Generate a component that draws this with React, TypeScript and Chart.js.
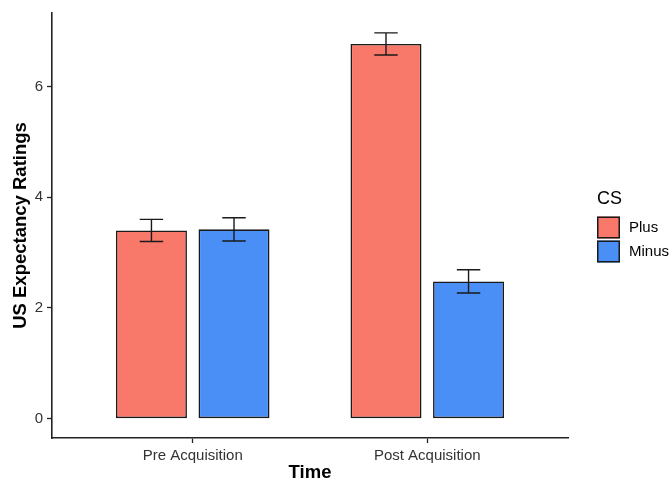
import React, { useEffect, useRef } from 'react';
import { Chart, registerables } from 'chart.js';

Chart.register(...registerables);

const categories = ['Pre Acquisition', 'Post Acquisition'];
const seriesNames = ['Plus', 'Minus'];
const plusValues = [3.4, 6.77];
const minusValues = [3.42, 2.48];
const plusErrors = [0.2, 0.2];
const minusErrors = [0.21, 0.21];
const yTicks = [0, 2, 4, 6];
const legendTitle = 'CS';
const xTitle = 'Time';
const yTitle = 'US Expectancy Ratings';
const seriesColors = ['#F8786A', '#4A8FF5'];

const FONT = '"Liberation Sans", Arial, Helvetica, sans-serif';
const seriesValues = [plusValues, minusValues];
const seriesErrors = [plusErrors, minusErrors];

const errorBarPlugin = {
  id: 'errorBars',
  afterDatasetsDraw(chart: any) {
    const { ctx } = chart;
    const yScale = chart.scales.y;
    ctx.save();
    ctx.strokeStyle = '#1a1a1a';
    ctx.lineWidth = 1.4;
    chart.data.datasets.forEach((_ds: any, di: number) => {
      const meta = chart.getDatasetMeta(di);
      meta.data.forEach((bar: any, i: number) => {
        const v = seriesValues[di][i];
        const e = seriesErrors[di][i];
        const yTop = yScale.getPixelForValue(v + e);
        const yBot = yScale.getPixelForValue(v - e);
        const hw = bar.width * 0.165;
        ctx.beginPath();
        ctx.moveTo(bar.x, yTop);
        ctx.lineTo(bar.x, yBot);
        ctx.moveTo(bar.x - hw, yTop);
        ctx.lineTo(bar.x + hw, yTop);
        ctx.moveTo(bar.x - hw, yBot);
        ctx.lineTo(bar.x + hw, yBot);
        ctx.stroke();
      });
    });
    ctx.restore();
  },
};

const legendPlugin = {
  id: 'ggLegend',
  afterDraw(chart: any) {
    const { ctx, chartArea } = chart;
    const x0 = chartArea.right + 29;
    const titleY = (chartArea.top + chartArea.bottom) / 2 - 26;
    ctx.save();
    ctx.fillStyle = '#000';
    ctx.textBaseline = 'middle';
    ctx.textAlign = 'left';
    ctx.font = `18px ${FONT}`;
    ctx.fillText(legendTitle, x0, titleY);
    const key = 22;
    const keyTop = titleY + 17;
    seriesNames.forEach((name, i) => {
      const ky = keyTop + i * (key + 2);
      ctx.fillStyle = seriesColors[i];
      ctx.fillRect(x0, ky, key + 1, key);
      ctx.strokeStyle = '#1a1a1a';
      ctx.lineWidth = 1.5;
      ctx.strokeRect(x0 + 0.75, ky + 0.75, key - 0.5, key - 1.5);
      ctx.fillStyle = '#000';
      ctx.font = `15px ${FONT}`;
      ctx.fillText(name, x0 + key + 10, ky + key / 2);
    });
    ctx.restore();
  },
};

export default function App() {
  const canvasRef = useRef<HTMLCanvasElement | null>(null);

  useEffect(() => {
    document.body.style.margin = '0';
    const canvas = canvasRef.current;
    if (!canvas) return;
    const tickFont = { family: FONT, size: 15 };
    const titleFont = { family: FONT, size: 18.5, weight: 'bold' as const };
    const chart = new Chart(canvas, {
      type: 'bar',
      data: {
        datasets: seriesNames.map((name, di) => ({
          label: name,
          data: categories.map((_c, i) => ({ x: i + 1, y: seriesValues[di][i] })),
          backgroundColor: seriesColors[di],
          borderColor: '#1a1a1a',
          borderWidth: 1.6,
          borderSkipped: false,
          categoryPercentage: 0.704,
          barPercentage: 0.86,
        })),
      },
      options: {
        responsive: false,
        animation: false,
        layout: { padding: { top: 12, right: 102, bottom: 0, left: 0 } },
        plugins: {
          legend: { display: false },
          tooltip: { enabled: false },
        },
        scales: {
          x: {
            type: 'linear',
            offset: false,
            min: 0.4,
            max: 2.6,
            afterBuildTicks: (s: any) => {
              s.ticks = categories.map((_c, i) => ({ value: i + 1 }));
            },
            afterFit: (s: any) => {
              s.height = 41;
            },
            ticks: {
              callback: (_v: any, idx: number) => categories[idx],
              font: tickFont,
              color: '#333',
              padding: 4,
              autoSkip: false,
              maxRotation: 0,
            },
            grid: { offset: false, drawOnChartArea: false, tickLength: 5, tickColor: '#222', tickWidth: 1.3 },
            border: { color: '#222', width: 1.6 },
            title: {
              display: true,
              text: xTitle,
              font: titleFont,
              color: '#000',
              padding: { top: 0, bottom: -5 },
            },
          },
          y: {
            type: 'linear',
            min: -0.35,
            max: 7.33,
            afterBuildTicks: (s: any) => {
              s.ticks = yTicks.map((v) => ({ value: v }));
            },
            afterFit: (s: any) => {
              s.width = 52;
            },
            ticks: {
              callback: (v: any) => String(v),
              font: tickFont,
              color: '#333',
              padding: 4,
            },
            grid: { drawOnChartArea: false, tickLength: 5, tickColor: '#222', tickWidth: 1.3 },
            border: { color: '#222', width: 1.6 },
            title: {
              display: true,
              text: yTitle,
              font: titleFont,
              color: '#000',
              padding: { top: 10, bottom: 0 },
            },
          },
        },
      } as any,
      plugins: [errorBarPlugin, legendPlugin],
    });
    return () => chart.destroy();
  }, []);

  return (
    <div style={{ position: 'fixed', left: 0, top: 0, width: 670, height: 479, background: '#fff' }}>
      <canvas ref={canvasRef} width={670} height={479} />
    </div>
  );
}
